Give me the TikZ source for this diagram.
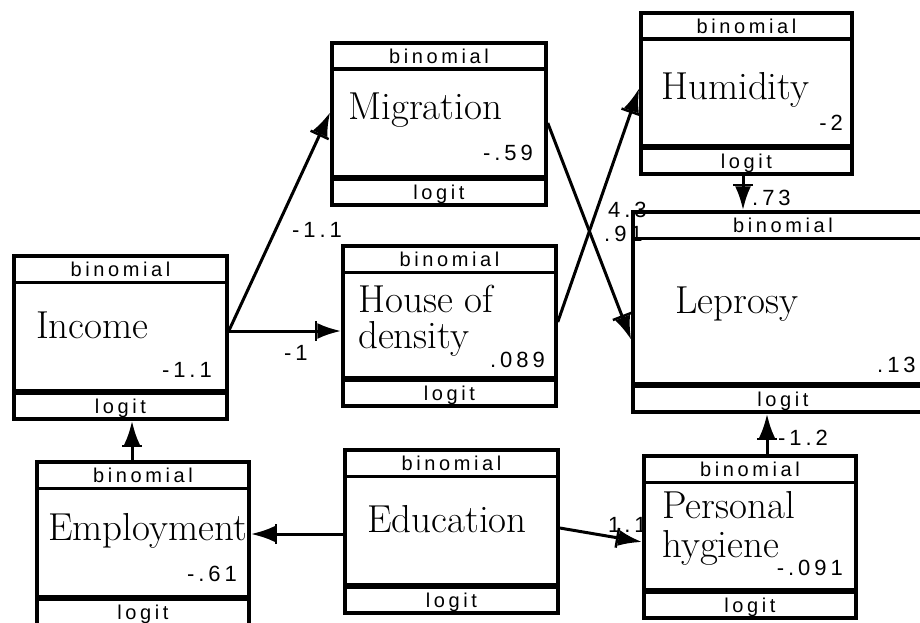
\documentclass[tikz,border=0pt]{standalone}
\usepackage{fontspec}
\usetikzlibrary{arrows.meta}
\newfontfamily\tagfont[LetterSpace=18]{Liberation Sans}

% name, centre, width, height
\newcommand{\ModelBox}[4]{%
  \node[ModelStyle, minimum width=#3, minimum height=#4] (#1) at (#2) {};
  \draw[HeadLine] ([yshift=-28pt]#1.north west) -- ([yshift=-28pt]#1.north east);
  \draw[FootLine] ([yshift=29pt]#1.south west) -- ([yshift=29pt]#1.south east);
  \node[TagStyle] at ([yshift=-22pt]#1.north) {binomial};
  \node[TagStyle] at ([yshift=7pt]#1.south) {logit};
}

\begin{document}
\begin{tikzpicture}[x=1pt,y=-1pt]
    \tikzset{ModelStyle/.style = {draw, line width=3.5pt, inner sep=0pt}}
    \tikzset{HeadLine/.style = {line width=3.5pt}}
    \tikzset{FootLine/.style = {line width=6pt}}
    \tikzset{TagStyle/.style = {anchor=base, inner sep=0pt, font=\tagfont\fontsize{20}{22}\selectfont}}
    \tikzset{MainText/.style = {anchor=base west, inner sep=0pt, font=\fontsize{39}{42}\selectfont}}
    \tikzset{ValueText/.style = {anchor=base east, inner sep=0pt, font=\tagfont\fontsize{22}{24}\selectfont}}
    \tikzset{CoefText/.style = {anchor=base west, inner sep=0pt, font=\tagfont\fontsize{22}{24}\selectfont}}
    \tikzset{PathStyle/.style = {line width=3pt, -{Bar[width=20pt,line width=2.5pt]Latex[length=24pt,width=16pt]}}}

    \clip (0,0) rectangle (920,623);

    \ModelBox{inc}{120.5,337.5}{213pt}{163pt}
    \ModelBox{mig}{439,124}{214pt}{162pt}
    \ModelBox{hum}{746.5,93.5}{211pt}{161pt}
    \ModelBox{lep}{783,312}{300pt}{200pt}
    \ModelBox{hou}{449.5,326}{213pt}{160pt}
    \ModelBox{emp}{143,543.5}{212pt}{163pt}
    \ModelBox{edu}{451.5,531.5}{213pt}{163pt}
    \ModelBox{hyg}{750,537}{212pt}{162pt}

    \node[MainText] (incT) at (36,338) {Income};
    \node[ValueText] (incV) at (212,377) {-1.1};
    \node[MainText] (migT) at (348,120) {Migration};
    \node[ValueText] (migV) at (533,160) {-.59};
    \node[MainText] (humT) at (661,100) {Humidity};
    \node[ValueText] (humV) at (843,130) {-2};
    \node[MainText] (lepT) at (675,313) {Leprosy};
    \node[CoefText] (lepV) at (877,372) {.13};
    \node[MainText] (houT) at (358,312) {House of};
    \node[MainText] (houU) at (358,348) {density};
    \node[ValueText] (houV) at (545,367) {.089};
    \node[MainText] (empT) at (48,540) {Employment};
    \node[ValueText] (empV) at (237,581) {-.61};
    \node[MainText] (eduT) at (367,532) {Education};
    \node[MainText] (hygT) at (662,518) {Personal};
    \node[MainText] (hygU) at (662,557) {hygiene};
    \node[ValueText] (hygV) at (843,575) {-.091};

    \draw[PathStyle] ([yshift=6.5pt]inc.east) -- ([yshift=12pt]mig.west);
    \draw[PathStyle] ([yshift=6.5pt]inc.east) -- ([yshift=-5pt]hou.west);
    \draw[PathStyle] ([yshift=1pt]mig.east) -- ([yshift=-28pt]lep.west);
    \draw[PathStyle] ([yshift=4pt]hou.east) -- ([yshift=5.5pt]hum.west);
    \draw[PathStyle] ([xshift=-3.5pt]hum.south) -- ([xshift=-40pt]lep.north);
    \draw[PathStyle] ([xshift=17pt]hyg.north) -- ([xshift=-16pt]lep.south);
    \draw[PathStyle] ([xshift=-11pt]emp.north) -- ([xshift=11.5pt]inc.south);
    \draw[PathStyle] ([yshift=-2.5pt]edu.west) -- ([yshift=9.5pt]emp.east);
    \draw[PathStyle] ([yshift=3.5pt]edu.east) -- ([yshift=-5pt]hyg.west);

    \node[CoefText] (c1) at (292,237) {-1.1};
    \node[CoefText] (c2) at (284,360) {-1};
    \node[CoefText] (c3) at (604,241) {.91};
    \node[CoefText] (c4) at (608,217) {4.3};
    \node[CoefText] (c5) at (752,205) {.73};
    \node[CoefText] (c6) at (778,445) {-1.2};
    \node[CoefText] (c7) at (608,532) {1.1};
\end{tikzpicture}
\end{document}
